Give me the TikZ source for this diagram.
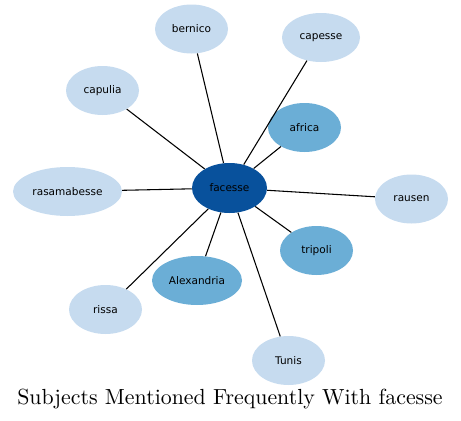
\documentclass[tikz,border=0pt]{standalone}
\usepackage{fontspec}
\newfontfamily\nodefont{DejaVu Sans}
\newfontfamily\titlefont{lmroman10-regular}[Extension=.otf]
\usepackage{xcolor}
\usepackage{tikz}
\usetikzlibrary{shapes.geometric}

\definecolor{hubblue}{HTML}{08519C}
\definecolor{midblue}{HTML}{6BAED6}
\definecolor{paleblue}{HTML}{C6DBEF}

\begin{document}
\begin{tikzpicture}[x=0.75pt,y=-0.75pt,
  font=\nodefont\fontsize{7.9}{9}\selectfont,
  bubble/.style={ellipse,draw=none,inner sep=0pt,minimum width=54.75pt,minimum height=36.75pt},
  hub/.style={bubble,fill=hubblue,minimum width=56.25pt,minimum height=37.5pt},
  near/.style={bubble,fill=midblue},
  far/.style={bubble,fill=paleblue},
  link/.style={line width=0.8pt}]
\useasboundingbox (0,0) rectangle (461,421);
\node[hub] (facesse) at (229.5,188) {facesse};
\node[far] (bernico) at (191.5,29) {bernico};
\node[far,minimum width=58.5pt] (capesse) at (321,37.5) {capesse};
\node[far] (capulia) at (102.5,90.5) {capulia};
\node[near] (africa) at (304.5,127.5) {africa};
\node[far,minimum width=81.75pt] (rasamabesse) at (67.5,191.5) {rasamabesse};
\node[far] (rausen) at (411.5,199) {rausen};
\node[near] (tripoli) at (316.5,250.5) {tripoli};
\node[near,minimum width=67.5pt] (alexandria) at (197,280.5) {Alexandria};
\node[far] (rissa) at (105.5,309.5) {rissa};
\node[far] (tunis) at (288.5,360.5) {Tunis};
\node[font=\titlefont\fontsize{16.4}{19}\selectfont] (title) at (230,399) {Subjects Mentioned Frequently With facesse};
\foreach \other in {bernico,capesse,capulia,africa,rasamabesse,rausen,tripoli,alexandria,rissa,tunis}
  \draw[link] (facesse) -- (\other);
\end{tikzpicture}
\end{document}
